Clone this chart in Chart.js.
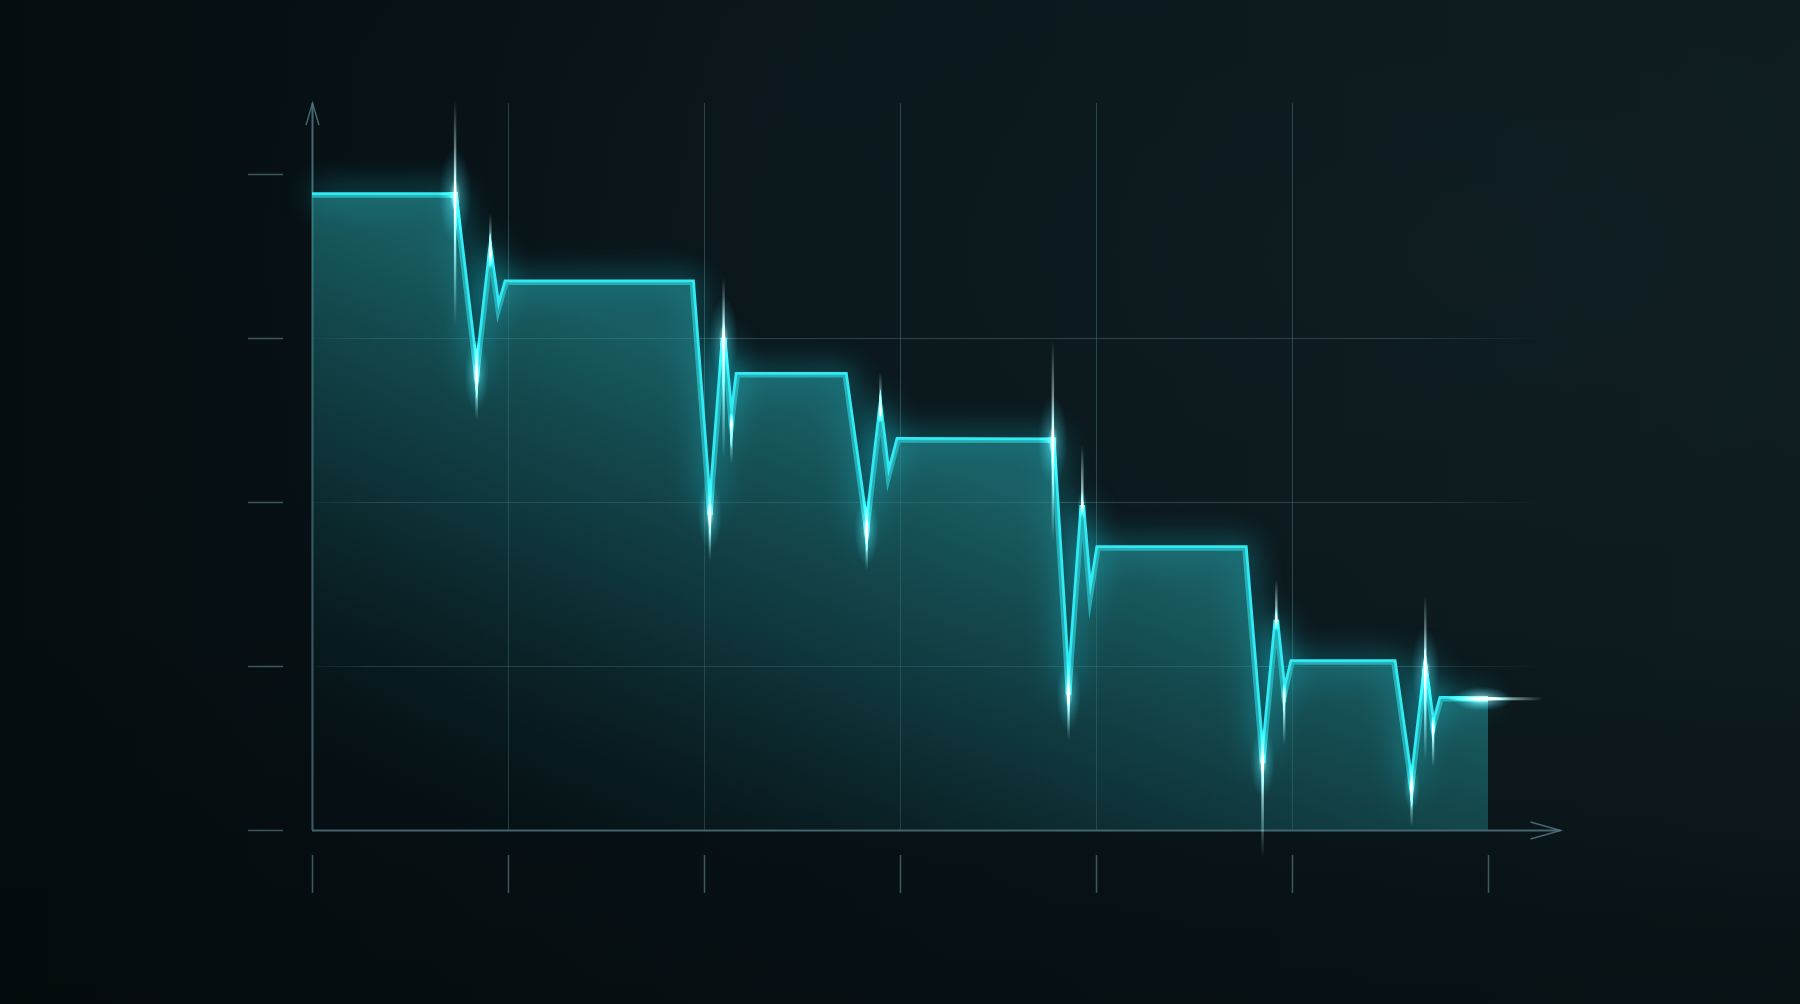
<!DOCTYPE html>
<html>
<head>
<meta charset="utf-8">
<script src="https://cdn.jsdelivr.net/npm/chart.js@4.4.1/dist/chart.umd.min.js"></script>
<style>
    html, body {
        margin: 0;
        padding: 0;
        width: 1800px;
        height: 1004px;
        overflow: hidden;
        background: #071013;
    }
    body {
        background:
            radial-gradient(ellipse at 85% 25%, rgba(16, 32, 36, 0.6) 0%, rgba(0, 0, 0, 0) 65%),
            linear-gradient(180deg, rgba(0, 0, 0, 0) 60%, rgba(3, 8, 10, 0.45) 100%),
            linear-gradient(90deg, #050d10 0%, #09151a 50%, #0d1a1e 100%);
    }
    #wrap {
        position: absolute;
        left: 0;
        top: 0;
        width: 1800px;
        height: 1004px;
    }
</style>
</head>
<body>
<div id="wrap"><canvas id="chart"></canvas></div>
<script>
// step-down signal, x in grid units, y on a 0..100 scale
const xValues = [0, 0.73, 0.84, 0.91, 0.95, 0.99, 1.94, 2.03, 2.10, 2.14, 2.17,
    2.72, 2.83, 2.90, 2.94, 2.99, 3.78, 3.86, 3.93, 3.97, 4.01,
    4.76, 4.85, 4.92, 4.96, 5.00, 5.52, 5.61, 5.68, 5.72, 5.76, 6.00];
const yValues = [96.8, 96.8, 69.4, 87.8, 79.3, 83.5, 83.5, 48.0, 75.0, 62.0, 69.4,
    69.4, 45.7, 63.7, 53.8, 59.5, 59.4, 20.6, 49.5, 35.5, 43.0,
    43.0, 10.2, 32.0, 20.6, 25.6, 25.6, 6.6, 24.4, 15.7, 20.0, 20.0];

const xTicks = [0, 1, 2, 3, 4, 5, 6];
const yTicks = [0, 25, 50, 75, 100];
const xGrid = [1, 2, 3, 4, 5];
const yGrid = [25, 50, 75];
const xAxisEnd = 6.37;
const yAxisEnd = 110.8;

// glints on the signal: point index, streak up, streak down, glow size
const flares = [
    [1, 95, 130, 16], [2, 35, 45, 12], [3, 40, 15, 5],
    [7, 25, 45, 12], [8, 60, 120, 14], [9, 10, 40, 4],
    [12, 25, 40, 12], [13, 40, 10, 4],
    [16, 100, 100, 15], [17, 30, 45, 12], [18, 60, 10, 5],
    [22, 30, 95, 12], [23, 40, 10, 4], [24, 10, 50, 4],
    [27, 20, 40, 8], [28, 75, 90, 14], [29, 10, 40, 4]
];

const points = xValues.map((x, i) => ({x: x, y: yValues[i]}));

function fillGradient(context) {
    const chart = context.chart;
    const {ctx, chartArea} = chart;
    if (!chartArea) return 'rgba(30,120,125,0.5)';
    const xs = chart.scales.x, ys = chart.scales.y;
    const x0 = xs.getPixelForValue(0), y0 = ys.getPixelForValue(yValues[0]);
    const x1 = xs.getPixelForValue(6), y1 = ys.getPixelForValue(yValues[yValues.length - 1]);
    const mx = (x0 + x1) / 2, my = (y0 + y1) / 2;
    const len = Math.hypot(x1 - x0, y1 - y0);
    const nx = -(y1 - y0) / len, ny = (x1 - x0) / len;
    const g = ctx.createLinearGradient(mx, my, mx + nx * 520, my + ny * 520);
    g.addColorStop(0, 'rgba(34, 138, 144, 0.62)');
    g.addColorStop(0.45, 'rgba(22, 92, 98, 0.45)');
    g.addColorStop(1, 'rgba(8, 28, 32, 0.15)');
    return g;
}

const decor = {
    id: 'decor',
    beforeDatasetsDraw(chart) {
        const ctx = chart.ctx;
        const xs = chart.scales.x, ys = chart.scales.y;
        const left = xs.getPixelForValue(0);
        const bottom = ys.getPixelForValue(0);
        const top = ys.getPixelForValue(yAxisEnd);
        const right = xs.getPixelForValue(xAxisEnd);
        ctx.save();

        // grid
        ctx.lineWidth = 1;
        ctx.strokeStyle = 'rgba(70, 108, 112, 0.55)';
        xGrid.forEach(v => {
            const x = Math.round(xs.getPixelForValue(v)) + 0.5;
            ctx.beginPath();
            ctx.moveTo(x, top);
            ctx.lineTo(x, bottom);
            ctx.stroke();
        });
        const gEnd = xs.getPixelForValue(6.3);
        const hg = ctx.createLinearGradient(left, 0, gEnd, 0);
        hg.addColorStop(0, 'rgba(70, 108, 112, 0.1)');
        hg.addColorStop(0.05, 'rgba(70, 108, 112, 0.55)');
        hg.addColorStop(0.88, 'rgba(70, 108, 112, 0.5)');
        hg.addColorStop(1, 'rgba(70, 108, 112, 0)');
        ctx.strokeStyle = hg;
        yGrid.forEach(v => {
            const y = Math.round(ys.getPixelForValue(v)) + 0.5;
            ctx.beginPath();
            ctx.moveTo(left, y);
            ctx.lineTo(gEnd, y);
            ctx.stroke();
        });

        // tick marks
        ctx.strokeStyle = 'rgba(85, 120, 125, 0.7)';
        ctx.lineWidth = 1.5;
        yTicks.forEach(v => {
            const y = Math.round(ys.getPixelForValue(v)) + 0.5;
            ctx.beginPath();
            ctx.moveTo(left - 64, y);
            ctx.lineTo(left - 29, y);
            ctx.stroke();
        });
        xTicks.forEach(v => {
            const x = Math.round(xs.getPixelForValue(v)) + 0.5;
            ctx.beginPath();
            ctx.moveTo(x, bottom + 25);
            ctx.lineTo(x, bottom + 63);
            ctx.stroke();
        });

        // axes with arrows
        ctx.strokeStyle = 'rgba(80, 118, 124, 0.85)';
        ctx.lineWidth = 2;
        ctx.beginPath();
        ctx.moveTo(left + 0.5, bottom);
        ctx.lineTo(left + 0.5, top);
        ctx.moveTo(left, bottom + 0.5);
        ctx.lineTo(right, bottom + 0.5);
        ctx.stroke();
        ctx.lineWidth = 1.5;
        ctx.beginPath();
        ctx.moveTo(left - 6, top + 22);
        ctx.lineTo(left + 0.5, top);
        ctx.lineTo(left + 7, top + 22);
        ctx.moveTo(right - 30, bottom - 8);
        ctx.lineTo(right, bottom + 0.5);
        ctx.lineTo(right - 30, bottom + 9);
        ctx.stroke();
        ctx.restore();
    },
    beforeDatasetDraw(chart, args) {
        if (args.index === 1) {
            const ctx = chart.ctx;
            ctx.save();
            ctx.shadowColor = 'rgba(30, 225, 245, 1)';
            ctx.shadowBlur = 30;
        }
    },
    afterDatasetDraw(chart, args) {
        if (args.index === 1) chart.ctx.restore();
    },
    afterDatasetsDraw(chart) {
        const ctx = chart.ctx;
        const xs = chart.scales.x, ys = chart.scales.y;
        ctx.save();
        ctx.globalCompositeOperation = 'lighter';
        flares.forEach(f => {
            const p = points[f[0]];
            const x = xs.getPixelForValue(p.x);
            const y = ys.getPixelForValue(p.y);
            const g = ctx.createLinearGradient(0, y - f[1], 0, y + f[2]);
            const mid = f[1] / (f[1] + f[2]);
            g.addColorStop(0, 'rgba(200, 255, 255, 0)');
            g.addColorStop(mid, 'rgba(235, 255, 255, 0.9)');
            g.addColorStop(1, 'rgba(200, 255, 255, 0)');
            ctx.fillStyle = g;
            ctx.fillRect(x - 1.2, y - f[1], 2.4, f[1] + f[2]);
            // soft vertical glow around the glint
            ctx.save();
            ctx.translate(x, y);
            ctx.scale(1, 3);
            const r = ctx.createRadialGradient(0, 0, 0, 0, 0, f[3]);
            r.addColorStop(0, 'rgba(220, 255, 255, 0.75)');
            r.addColorStop(0.35, 'rgba(110, 235, 245, 0.25)');
            r.addColorStop(1, 'rgba(40, 200, 220, 0)');
            ctx.fillStyle = r;
            ctx.fillRect(-f[3], -f[3], f[3] * 2, f[3] * 2);
            ctx.restore();
        });
        // bright tail at the end of the signal
        const last = points[points.length - 1];
        const ex = xs.getPixelForValue(last.x), ey = ys.getPixelForValue(last.y);
        const hg = ctx.createLinearGradient(ex - 40, 0, ex + 55, 0);
        hg.addColorStop(0, 'rgba(200, 255, 255, 0)');
        hg.addColorStop(0.45, 'rgba(235, 255, 255, 0.9)');
        hg.addColorStop(1, 'rgba(200, 255, 255, 0)');
        ctx.fillStyle = hg;
        ctx.fillRect(ex - 40, ey - 1.5, 95, 3);
        ctx.save();
        ctx.translate(ex - 6, ey);
        ctx.scale(2.5, 1);
        const rg = ctx.createRadialGradient(0, 0, 0, 0, 0, 12);
        rg.addColorStop(0, 'rgba(230, 255, 255, 0.7)');
        rg.addColorStop(1, 'rgba(40, 200, 220, 0)');
        ctx.fillStyle = rg;
        ctx.fillRect(-12, -12, 24, 24);
        ctx.restore();
        ctx.restore();
    }
};

new Chart(document.getElementById('chart'), {
    type: 'line',
    data: {
        datasets: [
            {
                data: points,
                fill: 'origin',
                backgroundColor: fillGradient,
                borderWidth: 0,
                pointRadius: 0
            },
            {
                data: points,
                fill: false,
                clip: false,
                borderColor: '#30ebf3',
                borderWidth: 5.5,
                borderJoinStyle: 'miter',
                pointRadius: 0
            },
            {
                data: points,
                fill: false,
                clip: false,
                borderColor: 'rgba(170, 255, 255, 0.8)',
                borderWidth: 1.4,
                borderJoinStyle: 'miter',
                pointRadius: 0
            }
        ]
    },
    plugins: [decor],
    options: {
        responsive: true,
        maintainAspectRatio: false,
        animation: false,
        events: [],
        layout: {padding: {left: 312, right: 312, top: 174, bottom: 174}},
        elements: {line: {tension: 0}},
        plugins: {legend: {display: false}, tooltip: {enabled: false}},
        scales: {
            x: {type: 'linear', min: 0, max: 6, display: false},
            y: {type: 'linear', min: 0, max: 100, display: false}
        }
    }
});
</script>
</body>
</html>
